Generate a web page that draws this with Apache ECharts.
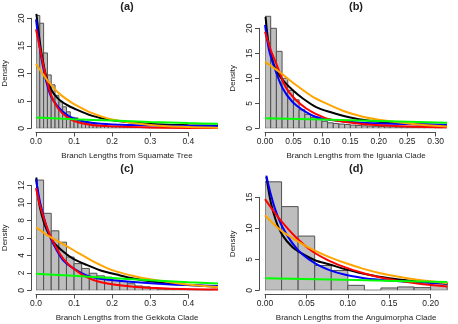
<!DOCTYPE html>
<html>
<head>
<meta charset="utf-8">
<script src="https://cdn.jsdelivr.net/npm/echarts/dist/echarts.min.js"></script>
<style>
  html, body { margin: 0; padding: 0; background: #fff; }
  #main { width: 458px; height: 324px; }
</style>
</head>
<body>
<div id="main"></div>
<script>
// histogram densities, one value per bin starting at 0
var binWidthA = 0.01;
var binsA = [20.5, 19.1, 13.7, 9.7, 7.9, 6.0, 4.8, 3.9, 3.0, 2.0, 1.9, 1.4, 1.15, 0.95, 0.8, 0.65,
  0.55, 0.5, 0.4, 0.35, 0.3, 0.3, 0.25, 0.22, 0.2, 0.18, 0.15, 0.14, 0.12, 0.1, 0.1, 0.08,
  0.08, 0.07, 0.06, 0.06, 0.05, 0.05, 0.04, 0.04, 0.03, 0.03, 0.03, 0.02, 0.02, 0.02, 0.02, 0.02];
var binWidthB = 0.01;
var binsB = [22.4, 20.0, 15.4, 10.0, 7.6, 5.7, 3.7, 2.8, 2.2, 1.9, 1.4, 1.1, 0.95, 0.85, 0.75, 0.65,
  0.55, 0.5, 0.45, 0.4, 0.35, 0.3, 0.3, 0.25, 0.25, 0.2, 0.2, 0.2, 0.15, 0.15, 0.15, 0.3];
var binWidthC = 0.02;
var binsC = [12.6, 8.8, 6.8, 5.5, 3.8, 3.05, 2.5, 1.95, 1.65, 1.5, 1.15, 1.0, 0.75, 0.5, 0.4, 0.3,
  0.15, 0.12, 0.1, 0.08, 0.06, 0.05, 0.04, 0.12];
var binWidthD = 0.02;
var binsD = [17.5, 13.5, 8.75, 4.0, 3.2, 0.8, 0, 0.38, 0.54, 0.43, 1.2];

// fitted density curves, [x, density]
var blackA = [[0.001, 20.8], [0.005, 18.5], [0.013, 14.3], [0.02, 11.6], [0.027, 9.4], [0.04, 7.0], [0.058, 5.4],
  [0.08, 4.3], [0.1, 3.6], [0.146, 2.3], [0.2, 1.45], [0.3, 0.8], [0.4, 0.55], [0.478, 0.45]];
var blueA = [[0, 19.8], [0.009, 15], [0.018, 11.3], [0.027, 8.5], [0.04, 5.7], [0.058, 3.9], [0.084, 2.3],
  [0.11, 1.5], [0.146, 1.0], [0.2, 0.7], [0.3, 0.5], [0.4, 0.42], [0.478, 0.38]];
var redA = [[0, 18.0], [0.009, 15], [0.018, 11.9], [0.027, 9.1], [0.04, 6.0], [0.058, 3.6], [0.084, 1.9],
  [0.11, 1.1], [0.146, 0.6], [0.2, 0.35], [0.3, 0.15], [0.4, 0.07], [0.478, 0.05]];
var orangeA = [[0, 11.7], [0.013, 10.4], [0.027, 9.0], [0.04, 7.9], [0.058, 6.5], [0.08, 5.3], [0.1, 4.4],
  [0.146, 2.8], [0.2, 1.6], [0.3, 0.6], [0.4, 0.23], [0.478, 0.11]];
var greenA = [[0, 1.95], [0.1, 1.65], [0.2, 1.4], [0.3, 1.15], [0.4, 0.95], [0.478, 0.82]];

var blackB = [[0.001, 22.3], [0.005, 18], [0.01, 15], [0.019, 11.7], [0.031, 9.7], [0.048, 7.7], [0.066, 6.0],
  [0.089, 4.3], [0.113, 3.3], [0.148, 2.2], [0.184, 1.5], [0.23, 1.0], [0.32, 0.6]];
var blueB = [[0, 20.7], [0.007, 15.7], [0.016, 12.3], [0.031, 8.0], [0.048, 5.3], [0.066, 3.7], [0.089, 2.3],
  [0.113, 1.7], [0.17, 1.1], [0.23, 0.9], [0.32, 0.7]];
var redB = [[0, 19.3], [0.01, 15.7], [0.022, 12.3], [0.036, 8.3], [0.054, 5.7], [0.072, 4.0], [0.089, 2.9],
  [0.113, 1.8], [0.17, 0.87], [0.23, 0.47], [0.32, 0.2]];
var orangeB = [[0, 13.3], [0.025, 11.3], [0.054, 8.7], [0.084, 6.3], [0.113, 4.7], [0.142, 3.3], [0.172, 2.3],
  [0.2, 1.7], [0.26, 0.87], [0.32, 0.35]];
var greenB = [[0, 2.0], [0.1, 1.75], [0.2, 1.45], [0.32, 1.1]];

var blackC = [[0.001, 12.9], [0.006, 10.5], [0.015, 8.6], [0.028, 6.9], [0.046, 5.5], [0.072, 4.4], [0.098, 3.6],
  [0.133, 2.9], [0.168, 2.3], [0.212, 1.8], [0.256, 1.35], [0.343, 0.8], [0.478, 0.4]];
var blueC = [[0, 12.7], [0.0105, 10.1], [0.024, 7.8], [0.037, 6.1], [0.054, 4.6], [0.072, 3.4], [0.098, 2.5],
  [0.133, 1.7], [0.168, 1.33], [0.256, 0.95], [0.343, 0.7], [0.478, 0.5]];
var redC = [[0, 11.7], [0.0105, 9.7], [0.024, 7.8], [0.037, 6.3], [0.054, 4.8], [0.072, 3.6], [0.098, 2.5],
  [0.133, 1.5], [0.168, 0.95], [0.256, 0.4], [0.343, 0.2], [0.478, 0.08]];
var orangeC = [[0, 7.2], [0.037, 6.1], [0.07, 5.3], [0.1, 4.55], [0.15, 3.3], [0.2, 2.3], [0.25, 1.7],
  [0.3, 1.26], [0.39, 0.7], [0.478, 0.38]];
var greenC = [[0, 1.9], [0.1, 1.65], [0.2, 1.4], [0.3, 1.15], [0.4, 0.93], [0.478, 0.78]];

var blackD = [[0.0016, 18.3], [0.007, 14.2], [0.013, 11.3], [0.021, 8.9], [0.033, 7.0], [0.045, 5.9], [0.061, 4.8],
  [0.077, 4.2], [0.1, 3.3], [0.125, 2.5], [0.15, 1.95], [0.175, 1.55], [0.2, 1.25], [0.22, 1.07]];
var blueD = [[0.0016, 18.5], [0.007, 15.5], [0.013, 12.8], [0.021, 10.2], [0.033, 7.6], [0.045, 5.8], [0.061, 4.3],
  [0.077, 3.3], [0.097, 2.5], [0.118, 2.0], [0.138, 1.7], [0.158, 1.5], [0.182, 1.3], [0.22, 1.1]];
var redD = [[0, 14.7], [0.017, 11.6], [0.037, 8.6], [0.057, 6.3], [0.077, 4.8], [0.097, 3.7], [0.118, 2.8],
  [0.138, 2.1], [0.158, 1.6], [0.182, 1.15], [0.22, 0.6]];
var orangeD = [[0, 12.1], [0.017, 9.9], [0.037, 8.1], [0.057, 6.6], [0.077, 5.4], [0.097, 4.4], [0.118, 3.5],
  [0.138, 2.8], [0.158, 2.25], [0.182, 1.75], [0.22, 1.15]];
var greenD = [[0, 1.95], [0.11, 1.65], [0.22, 1.35]];

var titlesText = ['(a)', '(b)', '(c)', '(d)'];
var xLabels = ['Branch Lengths from Squamate Tree', 'Branch Lengths from the Iguania Clade',
  'Branch Lengths from the Gekkota Clade', 'Branch Lengths from the Anguimorpha Clade'];

var FONT = '"Liberation Sans", Arial, sans-serif';
var TEXT = '#222222';
var AXIS = '#4d4d4d';

var myChart = echarts.init(document.getElementById('main'));
var grids = [], xAxes = [], yAxes = [], series = [], titles = [];

function hiddenAxis(gi, min, max) {
  return { gridIndex: gi, type: 'value', min: min, max: max, show: false };
}

function addPanel(p) {
  // data grid
  var gi = grids.length;
  grids.push({ left: p.x0, top: p.top, width: p.x1 - p.x0, height: p.y0 - p.top });
  xAxes.push({
    gridIndex: gi, type: 'value', min: 0, max: p.xmax,
    axisLine: { show: false }, axisTick: { show: false }, axisLabel: { show: false }, splitLine: { show: false },
    name: p.xlab, nameLocation: 'middle', nameGap: p.xlabGap,
    nameTextStyle: { fontSize: 8, color: TEXT, fontFamily: FONT }
  });
  yAxes.push(hiddenAxis(gi, 0, p.ymax));

  var hist = [];
  for (var i = 0; i < p.bins.length; i++) {
    hist.push([i * p.binWidth, (i + 1) * p.binWidth, p.bins[i]]);
  }
  series.push({
    type: 'custom', xAxisIndex: gi, yAxisIndex: gi, clip: true, data: hist,
    renderItem: function (params, api) {
      var a = api.coord([api.value(0), api.value(2)]);
      var b = api.coord([api.value(1), 0]);
      return {
        type: 'rect',
        shape: { x: a[0], y: a[1], width: b[0] - a[0], height: b[1] - a[1] },
        style: { fill: '#bebebe', stroke: '#505050', lineWidth: 1 }
      };
    }
  });
  var curves = [['#000000', p.black], ['#0000ff', p.blue], ['#ff0000', p.red], ['#ffa500', p.orange], ['#00ff00', p.green]];
  curves.forEach(function (c) {
    series.push({
      type: 'line', xAxisIndex: gi, yAxisIndex: gi, data: c[1], showSymbol: false,
      smooth: 0.3, lineStyle: { color: c[0], width: 2 }, clip: true
    });
  });

  // x axis, spans only the tick range like base R
  var gx = grids.length;
  grids.push({ left: p.x0, width: p.xTickMax * (p.x1 - p.x0) / p.xmax, top: p.xAxisY - 10, height: 10 });
  xAxes.push({
    gridIndex: gx, type: 'value', min: 0, max: p.xTickMax, interval: p.xInterval,
    axisLine: { show: true, lineStyle: { color: AXIS, width: 1 } },
    axisTick: { show: true, length: 4, lineStyle: { color: AXIS } },
    axisLabel: {
      fontSize: 8.5, color: TEXT, fontFamily: FONT, margin: 5,
      formatter: function (v) { return v.toFixed(p.decimals); }
    },
    splitLine: { show: false }
  });
  yAxes.push(hiddenAxis(gx, 0, 1));

  // y axis
  var gy = grids.length;
  var yTop = p.y0 - p.yTickMax * (p.y0 - p.top) / p.ymax;
  grids.push({ left: p.yAxisX, width: 10, top: yTop, height: p.y0 - yTop });
  xAxes.push(hiddenAxis(gy, 0, 1));
  yAxes.push({
    gridIndex: gy, type: 'value', min: 0, max: p.yTickMax, interval: p.yInterval,
    axisLine: { show: true, lineStyle: { color: AXIS, width: 1 } },
    axisTick: { show: true, length: 4, lineStyle: { color: AXIS } },
    axisLabel: { fontSize: 8.5, color: TEXT, fontFamily: FONT, rotate: 90, margin: 5 },
    splitLine: { show: false },
    name: 'Density', nameLocation: 'middle', nameGap: 22,
    nameTextStyle: { fontSize: 8, color: TEXT, fontFamily: FONT }
  });

  titles.push({
    text: p.title, left: (p.x0 + p.x1) / 2, top: p.titleTop, textAlign: 'center', padding: 0,
    textStyle: { fontSize: 11, fontWeight: 'bold', color: TEXT, fontFamily: FONT }
  });
}

addPanel({
  title: titlesText[0], xlab: xLabels[0], bins: binsA, binWidth: binWidthA,
  black: blackA, blue: blueA, red: redA, orange: orangeA, green: greenA,
  x0: 36, x1: 218, xmax: 0.478, y0: 128.3, top: 13, ymax: 20.96,
  xTickMax: 0.4, xInterval: 0.1, decimals: 1, xAxisY: 132.5,
  yTickMax: 20, yInterval: 5, yAxisX: 31, xlabGap: 23.5, titleTop: 1
});
addPanel({
  title: titlesText[1], xlab: xLabels[1], bins: binsB, binWidth: binWidthB,
  black: blackB, blue: blueB, red: redB, orange: orangeB, green: greenB,
  x0: 265, x1: 447, xmax: 0.32, y0: 128.3, top: 13, ymax: 23.06,
  xTickMax: 0.3, xInterval: 0.05, decimals: 2, xAxisY: 132.5,
  yTickMax: 20, yInterval: 5, yAxisX: 259, xlabGap: 23.5, titleTop: 1
});
addPanel({
  title: titlesText[2], xlab: xLabels[2], bins: binsC, binWidth: binWidthC,
  black: blackC, blue: blueC, red: redC, orange: orangeC, green: greenC,
  x0: 36, x1: 218, xmax: 0.478, y0: 290.3, top: 175, ymax: 13.18,
  xTickMax: 0.4, xInterval: 0.1, decimals: 1, xAxisY: 294.5,
  yTickMax: 12, yInterval: 2, yAxisX: 31, xlabGap: 23.5, titleTop: 163
});
addPanel({
  title: titlesText[3], xlab: xLabels[3], bins: binsD, binWidth: binWidthD,
  black: blackD, blue: blueD, red: redD, orange: orangeD, green: greenD,
  x0: 265, x1: 447.2, xmax: 0.22, y0: 290.3, top: 175, ymax: 18.6,
  xTickMax: 0.2, xInterval: 0.05, decimals: 2, xAxisY: 294.5,
  yTickMax: 15, yInterval: 5, yAxisX: 259, xlabGap: 23.5, titleTop: 163
});

var option = {
  animation: false,
  backgroundColor: '#ffffff',
  title: titles,
  grid: grids,
  xAxis: xAxes,
  yAxis: yAxes,
  series: series
};
myChart.setOption(option);
</script>
</body>
</html>
